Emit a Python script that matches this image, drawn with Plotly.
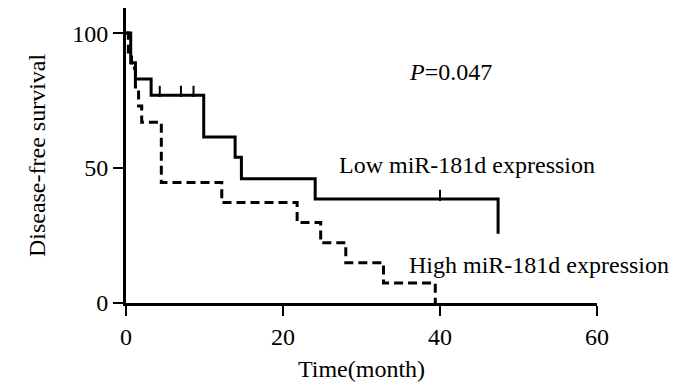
import plotly.graph_objects as go

# Low miR-181d expression (solid) - Kaplan-Meier steps
low_time = [0, 0.6, 1.2, 3.2, 9.9, 13.9, 14.7, 24.1, 47.4]
low_surv = [100, 89, 83, 77, 61.5, 54, 46, 38.5, 25.7]
low_end = 47.4
low_censor_time = [4.3, 7.0, 8.6, 40.0]

# High miR-181d expression (dashed)
high_time = [0, 0.3, 0.7, 1.2, 1.6, 2.0, 4.5, 12.2, 21.8, 24.8, 28.0, 32.8, 39.4]
high_surv = [100, 93, 87, 80, 73, 67, 44.6, 37.2, 29.8, 22.3, 14.9, 7.4, 0]
high_end = 39.4

x_ticks = [0, 20, 40, 60]
y_ticks = [0, 50, 100]

FONT = "Liberation Serif"


def surv_at(times, survs, t):
    s = survs[0]
    for ti, si in zip(times, survs):
        if ti <= t:
            s = si
    return s


fig = go.Figure()

fig.add_trace(go.Scatter(
    x=low_time + [low_end], y=low_surv + [low_surv[-1]],
    mode="lines", line=dict(color="black", width=3, shape="hv"),
    showlegend=False, hoverinfo="skip"))

fig.add_trace(go.Scatter(
    x=high_time + [high_end], y=high_surv + [high_surv[-1]],
    mode="lines", line=dict(color="black", width=3, shape="hv", dash="9px,5px"),
    showlegend=False, hoverinfo="skip"))

# censor ticks (small upward marks)
cy = [surv_at(low_time, low_surv, t) + 1.4 for t in low_censor_time]
fig.add_trace(go.Scatter(
    x=low_censor_time, y=cy, mode="markers",
    marker=dict(symbol="line-ns", size=8, line=dict(color="black", width=2)),
    showlegend=False, hoverinfo="skip"))

fig.add_annotation(x=41.4, y=85.5, xref="x", yref="y",
                   text="<i>P</i>=0.047", showarrow=False,
                   font=dict(family=FONT, size=24, color="black"))
fig.add_annotation(x=43.5, y=51, xref="x", yref="y",
                   text="Low miR-181d expression", showarrow=False,
                   font=dict(family=FONT, size=24, color="black"))
fig.add_annotation(x=52.6, y=14, xref="x", yref="y",
                   text="High miR-181d expression", showarrow=False,
                   font=dict(family=FONT, size=24, color="black"))

fig.update_xaxes(range=[0, 60], tickvals=x_ticks, ticks="outside", ticklen=10,
                 tickwidth=2, tickcolor="black", showline=True, linecolor="black",
                 linewidth=3, showgrid=False, zeroline=False,
                 tickfont=dict(family=FONT, size=24, color="black"),
                 title=dict(text="Time(month)", font=dict(family=FONT, size=24, color="black"),
                            standoff=12))
fig.update_yaxes(range=[0, 109.3], tickvals=y_ticks, ticks="outside", ticklen=10,
                 tickwidth=2, tickcolor="black", showline=True, linecolor="black",
                 linewidth=3, showgrid=False, zeroline=False,
                 tickfont=dict(family=FONT, size=24, color="black"),
                 title=dict(text="Disease-free survival", font=dict(family=FONT, size=24, color="black"),
                            standoff=20))

fig.update_layout(width=700, height=387, margin=dict(l=118, r=111, t=0, b=92),
                  plot_bgcolor="white", paper_bgcolor="white")

fig.write_html("out.html")
